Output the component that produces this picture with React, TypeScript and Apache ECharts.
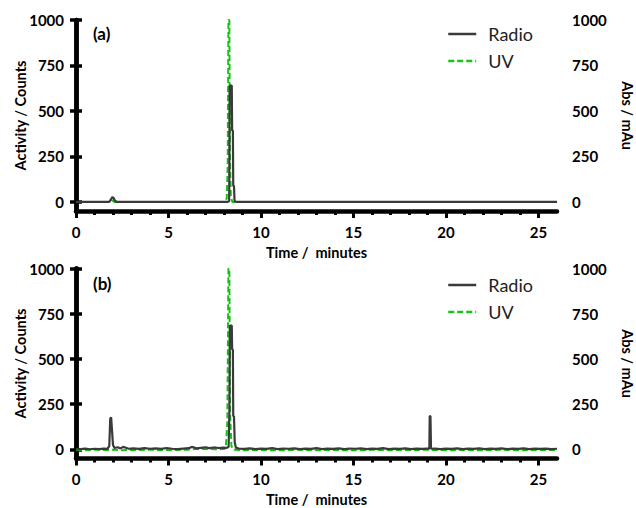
import React, { useEffect, useRef } from "react";
import * as echarts from "echarts";

// ---- Data (time in minutes, value) ----
const xMajorTicks = [0, 5, 10, 15, 20, 25];
const xMinorTicks = [1, 2, 3, 4, 6, 7, 8, 9, 11, 12, 13, 14, 16, 17, 18, 19, 21, 22, 23, 24];
const yTicks = [0, 250, 500, 750, 1000];

const radioA: number[][] = [
  [0, 0], [1.8, 0], [1.88, 12], [1.95, 25], [2.02, 24], [2.1, 8], [2.2, 0],
  [8.2, 0], [8.28, 5], [8.31, 640], [8.42, 640], [8.44, 392], [8.48, 392],
  [8.5, 88], [8.54, 88], [8.57, 6], [8.65, 0], [26, 0],
];
const uvA: number[][] = [
  [0, 0], [1.9, 0], [1.98, 10], [2.06, 0], [8.05, 0], [8.15, 20], [8.2, 200],
  [8.24, 1000], [8.29, 1000], [8.32, 250], [8.37, 30], [8.45, 0], [26, 0],
];
const radioB: number[][] = [
  [0, 4], [0.25, 2], [0.5, 5], [0.75, 1], [1, 4], [1.25, 2], [1.5, 5], [1.7, 3],
  [1.8, 20], [1.85, 170], [1.9, 178], [1.95, 100], [2.0, 25], [2.08, 8],
  [2.25, 12], [2.4, 6], [2.55, 14], [2.7, 9], [2.85, 4], [3.1, 6], [3.4, 3],
  [3.7, 7], [4.0, 4], [4.3, 6], [4.6, 3], [4.9, 8], [5.2, 4], [5.5, 2], [5.8, 5],
  [6.1, 7], [6.25, 14], [6.35, 12], [6.5, 6], [6.75, 9], [7.0, 12], [7.2, 7],
  [7.45, 11], [7.7, 8], [7.95, 10], [8.15, 9], [8.25, 15], [8.29, 200],
  [8.32, 685], [8.42, 685], [8.44, 552], [8.48, 552], [8.5, 184], [8.54, 184],
  [8.58, 40], [8.64, 10], [8.8, 5], [9.1, 3], [9.4, 6], [9.7, 2], [10, 5],
  [10.3, 3], [10.6, 7], [10.9, 2], [11.2, 5], [11.5, 4], [11.8, 6], [12.1, 2],
  [12.4, 5], [12.7, 3], [13, 7], [13.3, 2], [13.6, 5], [13.9, 3], [14.2, 6],
  [14.5, 2], [14.8, 5], [15.1, 4], [15.4, 6], [15.7, 2], [16, 5], [16.3, 3],
  [16.6, 7], [16.9, 2], [17.2, 5], [17.5, 3], [17.8, 6], [18.1, 2], [18.4, 5],
  [18.7, 3], [19.0, 5], [19.1, 4], [19.12, 184], [19.16, 184], [19.19, 4],
  [19.4, 5], [19.7, 2], [20, 5], [20.3, 3], [20.6, 6], [20.9, 2], [21.2, 5],
  [21.5, 3], [21.8, 6], [22.1, 2], [22.4, 5], [22.7, 3], [23, 6], [23.3, 2],
  [23.6, 5], [23.9, 3], [24.2, 6], [24.5, 2], [24.8, 5], [25.1, 3], [25.4, 5],
  [25.7, 2], [26, 4],
];
const uvB: number[][] = [
  [0, -2], [0.5, -4], [1, -1], [1.5, -3], [2, -2], [2.5, -5], [3, -2], [3.5, -3],
  [4, -1], [4.5, -4], [5, -2], [5.5, -3], [6, -1], [6.5, 2], [7, 3], [7.5, 1],
  [8, 2], [8.1, 10], [8.18, 150], [8.24, 1000], [8.29, 1000], [8.33, 200],
  [8.4, 20], [8.5, -2], [9, -4], [10, -3], [11, -5], [12, -2], [13, -4],
  [14, -3], [15, -5], [16, -2], [17, -4], [18, -3], [19, -2], [20, -4],
  [21, -3], [22, -5], [23, -2], [24, -4], [25, -3], [26, -3],
];

const FONT = "Lato";
const RADIO_COLOR = "#3a3a3a";
const UV_COLOR = "#14c414";
const AXIS_W = 4.5;

function xAxes(gi: number) {
  return [
    {
      type: "value", gridIndex: gi, min: 0, max: 26, position: "bottom",
      axisLine: { show: true, onZero: false, lineStyle: { color: "#000", width: AXIS_W } },
      axisTick: { show: true, length: 7, customValues: xMajorTicks, lineStyle: { color: "#000", width: 3 } },
      axisLabel: {
        customValues: xMajorTicks, fontFamily: FONT, fontWeight: "bold", fontSize: 15, color: "#000", margin: 13,
        formatter: (v: number) => String(v),
      },
      splitLine: { show: false },
      name: "Time /  minutes", nameLocation: "middle", nameGap: 34, nameMoveOverlap: false,
      nameTextStyle: { fontFamily: FONT, fontWeight: "bold", fontSize: 14.5, lineHeight: 14, color: "#000" },
    },
    {
      type: "value", gridIndex: gi, min: 0, max: 26, position: "bottom",
      axisLine: { show: false, onZero: false },
      axisTick: { show: true, length: 4, customValues: xMinorTicks, lineStyle: { color: "#000", width: 3 } },
      axisLabel: { show: false },
      splitLine: { show: false },
    },
  ];
}

function yAxes(gi: number) {
  const common = {
    type: "value", gridIndex: gi, min: -50, max: 1000,
    axisLine: { show: true, lineStyle: { color: "#000", width: AXIS_W } },
    axisTick: { show: true, length: 6, customValues: yTicks, lineStyle: { color: "#000", width: 3.5 } },
    splitLine: { show: false },
    nameLocation: "middle",
    nameMoveOverlap: false,
    nameTextStyle: { fontFamily: FONT, fontWeight: "bold", fontSize: 14.5, lineHeight: 14, color: "#000" },
  };
  const label = { customValues: yTicks, fontFamily: FONT, fontWeight: "bold", fontSize: 15, color: "#000", formatter: (v: number) => String(v) };
  return [
    { ...common, position: "left", name: "Activity / Counts", nameGap: 49, axisLabel: { ...label, margin: 12 } },
    { ...common, position: "right", name: "Abs / mAu", nameGap: 63, nameRotate: -90, axisLabel: { ...label, margin: 15 } },
  ];
}

function lineSeries(name: string, data: number[][], gi: number) {
  const isUV = name === "UV";
  return {
    name, type: "line", data, xAxisIndex: gi * 2, yAxisIndex: gi * 2,
    symbol: "none", showSymbol: false, z: isUV ? 2 : 3,
    lineStyle: isUV
      ? { color: UV_COLOR, width: 2, type: [6, 3] }
      : { color: RADIO_COLOR, width: 2.2 },
    itemStyle: { color: isUV ? UV_COLOR : RADIO_COLOR },
  };
}

export default function App() {
  const ref = useRef<HTMLDivElement>(null);
  useEffect(() => {
    if (!ref.current) return;
    const chart = echarts.init(ref.current, undefined, { renderer: "svg" });
    const legendCommon = {
      data: ["Radio", "UV"], orient: "vertical", left: 442,
      itemWidth: 28, itemHeight: 14, itemGap: 9,
      itemStyle: { opacity: 0 },
      lineStyle: { width: 2.5 },
      textStyle: { fontFamily: FONT, fontSize: 18, color: "#222", padding: [0, 0, 0, 7] },
    };
    chart.setOption({
      animation: false,
      backgroundColor: "#fff",
      grid: [
        { left: 76, top: 20, width: 481, height: 191, outerBoundsMode: "none", containLabel: false },
        { left: 76, top: 268.5, width: 481, height: 190, outerBoundsMode: "none", containLabel: false },
      ],
      xAxis: [...xAxes(0), ...xAxes(1)],
      yAxis: [...yAxes(0), ...yAxes(1)],
      legend: [
        { ...legendCommon, top: 20 },
        { ...legendCommon, top: 271 },
      ],
      graphic: [
        { type: "text", left: 93, top: 25, style: { text: "(a)", font: `bold 17px ${FONT}`, fill: "#000" } },
        { type: "text", left: 93, top: 275, style: { text: "(b)", font: `bold 17px ${FONT}`, fill: "#000" } },
      ],
      series: [
        lineSeries("UV", uvA, 0),
        lineSeries("Radio", radioA, 0),
        lineSeries("UV", uvB, 1),
        lineSeries("Radio", radioB, 1),
      ],
    });
    return () => chart.dispose();
  }, []);
  return (
    <div
      ref={ref}
      style={{ position: "absolute", left: 0, top: 0, width: 636, height: 508, background: "#fff" }}
    />
  );
}
